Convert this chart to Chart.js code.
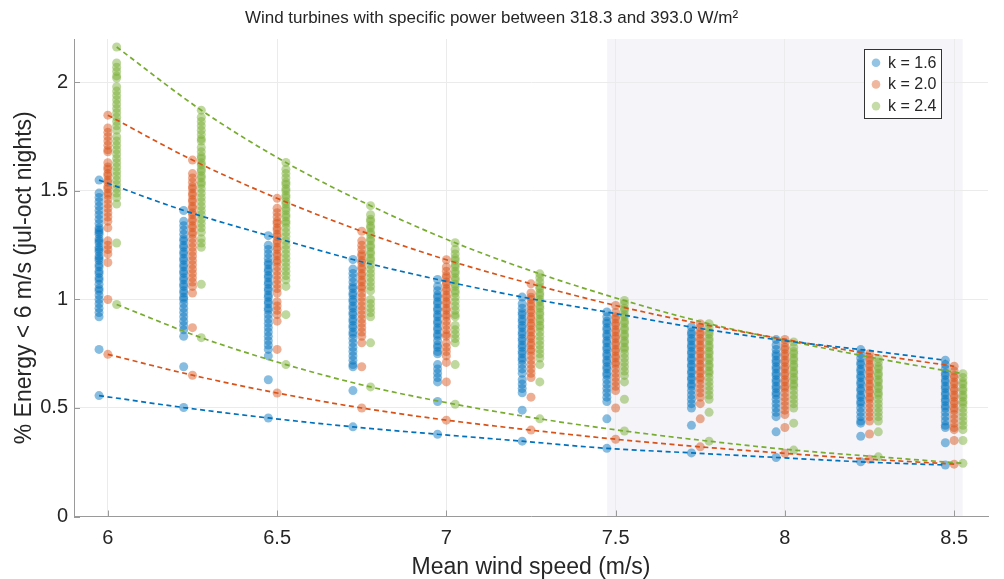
<!DOCTYPE html>
<html>
<head>
<meta charset="utf-8">
<script src="https://cdn.jsdelivr.net/npm/chart.js@4/dist/chart.umd.min.js"></script>
<style>
  html, body { margin: 0; padding: 0; background: #ffffff; }
  #wrap { width: 1004px; height: 579px; position: relative; }
</style>
</head>
<body>
<div id="wrap"><canvas id="c" width="1004" height="579"></canvas></div>
<script>
// ---------------- DATA ----------------
const chartTitle = 'Wind turbines with specific power between 318.3 and 393.0 W/m²';
const xAxisTitle = 'Mean wind speed (m/s)';
const yAxisTitle = '% Energy < 6 m/s (jul-oct nights)';
const speeds = [6, 6.25, 6.5, 6.75, 7, 7.25, 7.5, 7.75, 8, 8.25, 8.5];
const xTicks = [6, 6.5, 7, 7.5, 8, 8.5];
const yTicks = [0, 0.5, 1, 1.5, 2];
const seriesLabels = ['k = 1.6', 'k = 2.0', 'k = 2.4'];
const highlightRange = [7.475, 8.525];

// k = 1.6
const k16Upper = [1.55, 1.41, 1.294, 1.184, 1.092, 1.011, 0.942, 0.873, 0.815, 0.769, 0.72];
const k16Lower = [0.557, 0.502, 0.454, 0.413, 0.379, 0.347, 0.314, 0.293, 0.272, 0.252, 0.237];
const k16Spread = [
  [1.49,1.47,1.45,1.43,1.41,1.39,1.37,1.35,1.33,1.32,1.31,1.30,1.28,1.27,1.26,1.24,1.23,1.22,1.20,1.19,1.18,1.16,1.15,1.13,1.12,1.10,1.09,1.07,1.05,1.04,1.02,1.00,0.98,0.96,0.94,0.92,0.77],
  [1.36,1.34,1.32,1.30,1.28,1.27,1.25,1.24,1.22,1.21,1.19,1.18,1.16,1.15,1.13,1.12,1.10,1.09,1.07,1.06,1.04,1.03,1.01,1.00,0.98,0.96,0.94,0.92,0.90,0.88,0.86,0.83,0.69],
  [1.25,1.23,1.21,1.19,1.17,1.16,1.14,1.13,1.11,1.10,1.08,1.07,1.05,1.04,1.02,1.01,0.99,0.98,0.96,0.95,0.93,0.91,0.89,0.87,0.85,0.83,0.81,0.79,0.77,0.74,0.63],
  [1.14,1.12,1.10,1.08,1.06,1.05,1.03,1.02,1.00,0.99,0.97,0.96,0.94,0.93,0.91,0.90,0.88,0.87,0.85,0.84,0.82,0.80,0.78,0.76,0.74,0.72,0.70,0.69,0.58],
  [1.06,1.04,1.02,1.01,0.99,0.98,0.96,0.95,0.93,0.92,0.90,0.89,0.87,0.86,0.84,0.83,0.81,0.79,0.78,0.76,0.75,0.70,0.68,0.66,0.64,0.62,0.53],
  [0.98,0.96,0.94,0.93,0.91,0.90,0.88,0.87,0.85,0.84,0.82,0.81,0.79,0.78,0.76,0.75,0.73,0.72,0.70,0.68,0.66,0.63,0.61,0.59,0.57,0.49],
  [0.92,0.90,0.89,0.87,0.86,0.84,0.83,0.81,0.80,0.78,0.77,0.75,0.74,0.72,0.71,0.69,0.68,0.66,0.65,0.63,0.61,0.59,0.57,0.55,0.53,0.45],
  [0.85,0.84,0.82,0.81,0.79,0.78,0.76,0.75,0.73,0.72,0.70,0.69,0.67,0.66,0.64,0.63,0.61,0.60,0.58,0.56,0.54,0.52,0.50,0.42],
  [0.79,0.77,0.75,0.74,0.72,0.71,0.69,0.68,0.66,0.65,0.63,0.62,0.60,0.59,0.57,0.56,0.54,0.52,0.50,0.48,0.46,0.39],
  [0.75,0.73,0.71,0.70,0.68,0.67,0.65,0.64,0.62,0.61,0.59,0.58,0.56,0.55,0.53,0.52,0.50,0.48,0.46,0.44,0.43,0.37],
  [0.70,0.68,0.66,0.65,0.63,0.62,0.60,0.59,0.57,0.56,0.54,0.53,0.51,0.50,0.48,0.46,0.44,0.42,0.41,0.34]
];

// k = 2.0
const k20Upper = [1.849, 1.642, 1.466, 1.314, 1.183, 1.072, 0.972, 0.888, 0.816, 0.75, 0.692];
const k20Lower = [0.747, 0.651, 0.569, 0.50, 0.444, 0.398, 0.356, 0.321, 0.291, 0.264, 0.241];
const k20Spread = [
  [1.79,1.77,1.75,1.73,1.71,1.69,1.68,1.63,1.61,1.60,1.58,1.57,1.55,1.54,1.52,1.51,1.49,1.48,1.46,1.44,1.42,1.40,1.38,1.36,1.33,1.27,1.25,1.23,1.21,1.17,1.00],
  [1.58,1.56,1.54,1.52,1.51,1.49,1.48,1.46,1.45,1.43,1.42,1.40,1.39,1.37,1.36,1.34,1.33,1.31,1.30,1.28,1.26,1.24,1.22,1.20,1.18,1.16,1.14,1.12,1.10,1.08,1.06,1.03,0.87],
  [1.42,1.40,1.38,1.36,1.35,1.33,1.32,1.30,1.29,1.27,1.26,1.24,1.23,1.21,1.20,1.18,1.17,1.15,1.13,1.11,1.09,1.07,1.05,1.03,0.99,0.97,0.95,0.93,0.90,0.77],
  [1.27,1.25,1.23,1.21,1.20,1.18,1.17,1.15,1.14,1.12,1.11,1.09,1.08,1.06,1.05,1.03,1.01,0.99,0.97,0.95,0.93,0.91,0.89,0.87,0.85,0.83,0.80,0.69],
  [1.15,1.13,1.11,1.10,1.08,1.07,1.05,1.04,1.02,1.01,0.99,0.98,0.96,0.95,0.93,0.92,0.90,0.88,0.86,0.84,0.83,0.80,0.78,0.76,0.74,0.71,0.62],
  [1.03,1.01,1.00,0.98,0.97,0.95,0.94,0.92,0.91,0.89,0.88,0.86,0.85,0.83,0.82,0.80,0.79,0.77,0.76,0.74,0.72,0.70,0.68,0.66,0.64,0.55],
  [0.94,0.92,0.91,0.89,0.88,0.86,0.85,0.83,0.82,0.80,0.79,0.77,0.76,0.74,0.73,0.71,0.70,0.68,0.66,0.64,0.62,0.60,0.58,0.50],
  [0.87,0.85,0.84,0.82,0.81,0.79,0.78,0.76,0.75,0.73,0.72,0.70,0.69,0.67,0.66,0.64,0.63,0.61,0.59,0.57,0.55,0.52,0.45],
  [0.80,0.78,0.77,0.75,0.74,0.72,0.71,0.69,0.68,0.66,0.65,0.63,0.62,0.60,0.59,0.57,0.55,0.53,0.51,0.49,0.47,0.41],
  [0.73,0.72,0.70,0.69,0.67,0.66,0.64,0.63,0.61,0.60,0.58,0.57,0.55,0.54,0.52,0.50,0.48,0.46,0.44,0.38],
  [0.67,0.65,0.64,0.62,0.61,0.59,0.58,0.56,0.55,0.53,0.52,0.50,0.49,0.47,0.45,0.43,0.41,0.40,0.35]
];

// k = 2.4
const k24Upper = [2.163, 1.872, 1.631, 1.432, 1.261, 1.118, 0.995, 0.888, 0.804, 0.727, 0.658];
const k24Lower = [0.977, 0.824, 0.70, 0.597, 0.517, 0.45, 0.394, 0.347, 0.306, 0.275, 0.245];
const k24Spread = [
  [2.09,2.07,2.05,2.03,2.02,1.98,1.96,1.94,1.92,1.90,1.88,1.86,1.84,1.82,1.80,1.78,1.75,1.73,1.71,1.69,1.67,1.65,1.63,1.61,1.59,1.57,1.55,1.53,1.51,1.49,1.47,1.44,1.26],
  [1.84,1.82,1.80,1.78,1.76,1.74,1.73,1.70,1.68,1.66,1.65,1.63,1.62,1.60,1.59,1.57,1.56,1.54,1.53,1.51,1.49,1.47,1.45,1.43,1.41,1.39,1.37,1.35,1.33,1.31,1.28,1.26,1.24,1.07],
  [1.60,1.58,1.56,1.54,1.53,1.51,1.50,1.48,1.47,1.45,1.44,1.42,1.41,1.39,1.38,1.36,1.35,1.33,1.31,1.29,1.27,1.25,1.23,1.21,1.19,1.17,1.15,1.13,1.11,1.09,1.06,0.93],
  [1.39,1.37,1.36,1.34,1.33,1.31,1.30,1.28,1.27,1.25,1.24,1.22,1.21,1.19,1.18,1.16,1.14,1.12,1.10,1.08,1.06,1.04,1.00,0.98,0.96,0.94,0.92,0.80],
  [1.23,1.21,1.19,1.18,1.16,1.15,1.13,1.12,1.10,1.09,1.07,1.06,1.04,1.03,1.01,0.99,0.97,0.95,0.93,0.92,0.88,0.86,0.84,0.82,0.80,0.70],
  [1.10,1.08,1.06,1.05,1.03,1.02,1.00,0.99,0.97,0.96,0.94,0.93,0.91,0.90,0.88,0.87,0.85,0.83,0.81,0.79,0.77,0.75,0.73,0.70,0.62],
  [0.98,0.96,0.95,0.93,0.92,0.90,0.89,0.87,0.86,0.84,0.83,0.81,0.80,0.78,0.77,0.75,0.73,0.71,0.69,0.67,0.65,0.62,0.54],
  [0.87,0.85,0.84,0.82,0.81,0.79,0.78,0.76,0.75,0.73,0.72,0.70,0.69,0.67,0.66,0.64,0.62,0.60,0.58,0.56,0.54,0.48],
  [0.78,0.76,0.75,0.73,0.72,0.70,0.69,0.67,0.66,0.64,0.63,0.61,0.60,0.58,0.56,0.54,0.52,0.50,0.43],
  [0.71,0.69,0.68,0.66,0.65,0.63,0.62,0.60,0.59,0.57,0.56,0.54,0.52,0.50,0.48,0.46,0.44,0.39],
  [0.64,0.62,0.61,0.59,0.58,0.56,0.55,0.53,0.52,0.50,0.48,0.46,0.44,0.42,0.40,0.35]
];

// ---------------- STYLE / BUILD ----------------
const FONT = "'Liberation Sans', Arial, Helvetica, sans-serif";
const TEXT = '#262626';
const series = [
  { label: seriesLabels[0], upper: k16Upper, lower: k16Lower, spread: k16Spread, rgb: [0,114,189],  dx: -0.026 },
  { label: seriesLabels[1], upper: k20Upper, lower: k20Lower, spread: k20Spread, rgb: [217,83,25],  dx: 0 },
  { label: seriesLabels[2], upper: k24Upper, lower: k24Lower, spread: k24Spread, rgb: [119,172,48], dx: 0.026 }
];
const rgba = (c, a) => `rgba(${c[0]},${c[1]},${c[2]},${a})`;

const datasets = [];
series.forEach((s, si) => {
  const pts = [];
  speeds.forEach((sp, i) => {
    const x = sp + s.dx;
    pts.push({ x, y: s.upper[i] });
    s.spread[i].forEach(v => pts.push({ x, y: v }));
    pts.push({ x, y: s.lower[i] });
  });
  datasets.push({
    type: 'scatter', label: s.label, data: pts, order: 10 + si,
    pointRadius: 4.5, pointHoverRadius: 4.5, pointBorderWidth: 0,
    backgroundColor: rgba(s.rgb, 0.47), borderColor: 'rgba(0,0,0,0)'
  });
});
series.forEach((s, si) => {
  [s.upper, s.lower].forEach(arr => {
    datasets.push({
      type: 'line', label: s.label + ' bound',
      data: speeds.map((sp, i) => ({ x: sp + s.dx, y: arr[i] })),
      order: 1, showLine: true, fill: false, pointRadius: 0,
      borderColor: rgba(s.rgb, 1), borderWidth: 1.7, borderDash: [5, 3.5],
      cubicInterpolationMode: 'monotone'
    });
  });
});

const decorPlugin = {
  id: 'decor',
  beforeDraw(chart) {
    const { ctx, chartArea: a, scales: { x } } = chart;
    const x0 = x.getPixelForValue(highlightRange[0]);
    const x1 = x.getPixelForValue(highlightRange[1]);
    ctx.save();
    ctx.fillStyle = '#f4f4f9';
    ctx.fillRect(x0, a.top, x1 - x0, a.bottom - a.top);
    ctx.restore();
  },
  afterDraw(chart) {
    const { ctx, chartArea: a, scales: { x, y } } = chart;
    ctx.save();
    // inner tick marks
    ctx.strokeStyle = '#9a9a9a';
    ctx.lineWidth = 1;
    xTicks.forEach(v => {
      const px = Math.round(x.getPixelForValue(v)) + 0.5;
      ctx.beginPath(); ctx.moveTo(px, a.bottom); ctx.lineTo(px, a.bottom - 6); ctx.stroke();
    });
    yTicks.forEach(v => {
      const py = Math.round(y.getPixelForValue(v)) + 0.5;
      ctx.beginPath(); ctx.moveTo(a.left, py); ctx.lineTo(a.left + 6, py); ctx.stroke();
    });
    // title
    ctx.fillStyle = TEXT;
    ctx.font = `17px ${FONT}`;
    ctx.textAlign = 'center';
    ctx.textBaseline = 'middle';
    ctx.fillText(chartTitle, 491.5, 18);
    // legend box
    const lx = 864, ly = 49, lw = 77, lh = 69;
    ctx.fillStyle = '#ffffff';
    ctx.fillRect(lx, ly, lw, lh);
    ctx.strokeStyle = '#333333';
    ctx.lineWidth = 1;
    ctx.strokeRect(lx + 0.5, ly + 0.5, lw, lh);
    ctx.font = `16px ${FONT}`;
    ctx.textAlign = 'left';
    series.forEach((s, i) => {
      const cy = 62.7 + i * 21.7;
      ctx.fillStyle = rgba(s.rgb, 0.42);
      ctx.beginPath(); ctx.arc(876, cy, 4.3, 0, Math.PI * 2); ctx.fill();
      ctx.fillStyle = TEXT;
      ctx.fillText(s.label, 888, cy + 0.5);
    });
    ctx.restore();
  }
};

new Chart(document.getElementById('c'), {
  data: { datasets },
  options: {
    responsive: false,
    animation: false,
    events: [],
    layout: { padding: { top: 39, right: 16, left: 0, bottom: 0 } },
    plugins: { legend: { display: false }, title: { display: false }, tooltip: { enabled: false } },
    scales: {
      x: {
        type: 'linear', min: 5.9, max: 8.6,
        afterBuildTicks: s => { s.ticks = xTicks.map(v => ({ value: v })); },
        afterFit: s => { s.height = 62.5; },
        grid: { color: '#ebebeb', lineWidth: 1, drawTicks: false },
        border: { display: true, color: '#9a9a9a', width: 1 },
        ticks: { color: TEXT, font: { family: FONT, size: 20 }, padding: 10, maxRotation: 0,
                 callback: v => String(v) },
        title: { display: true, text: xAxisTitle, color: TEXT,
                 font: { family: FONT, size: 23, lineHeight: 1.0 }, padding: { top: 0, bottom: 0 } }
      },
      y: {
        type: 'linear', min: 0, max: 2.2,
        afterBuildTicks: s => { s.ticks = yTicks.map(v => ({ value: v })); },
        afterFit: s => { s.width = 74; },
        grid: { color: '#ebebeb', lineWidth: 1, drawTicks: false },
        border: { display: true, color: '#9a9a9a', width: 1 },
        ticks: { color: TEXT, font: { family: FONT, size: 20 }, padding: 6,
                 callback: v => String(v) },
        title: { display: true, text: yAxisTitle, color: TEXT,
                 font: { family: FONT, size: 23, lineHeight: 1.2 }, padding: { top: 11, bottom: 0 } }
      }
    }
  },
  plugins: [decorPlugin]
});
</script>
</body>
</html>
